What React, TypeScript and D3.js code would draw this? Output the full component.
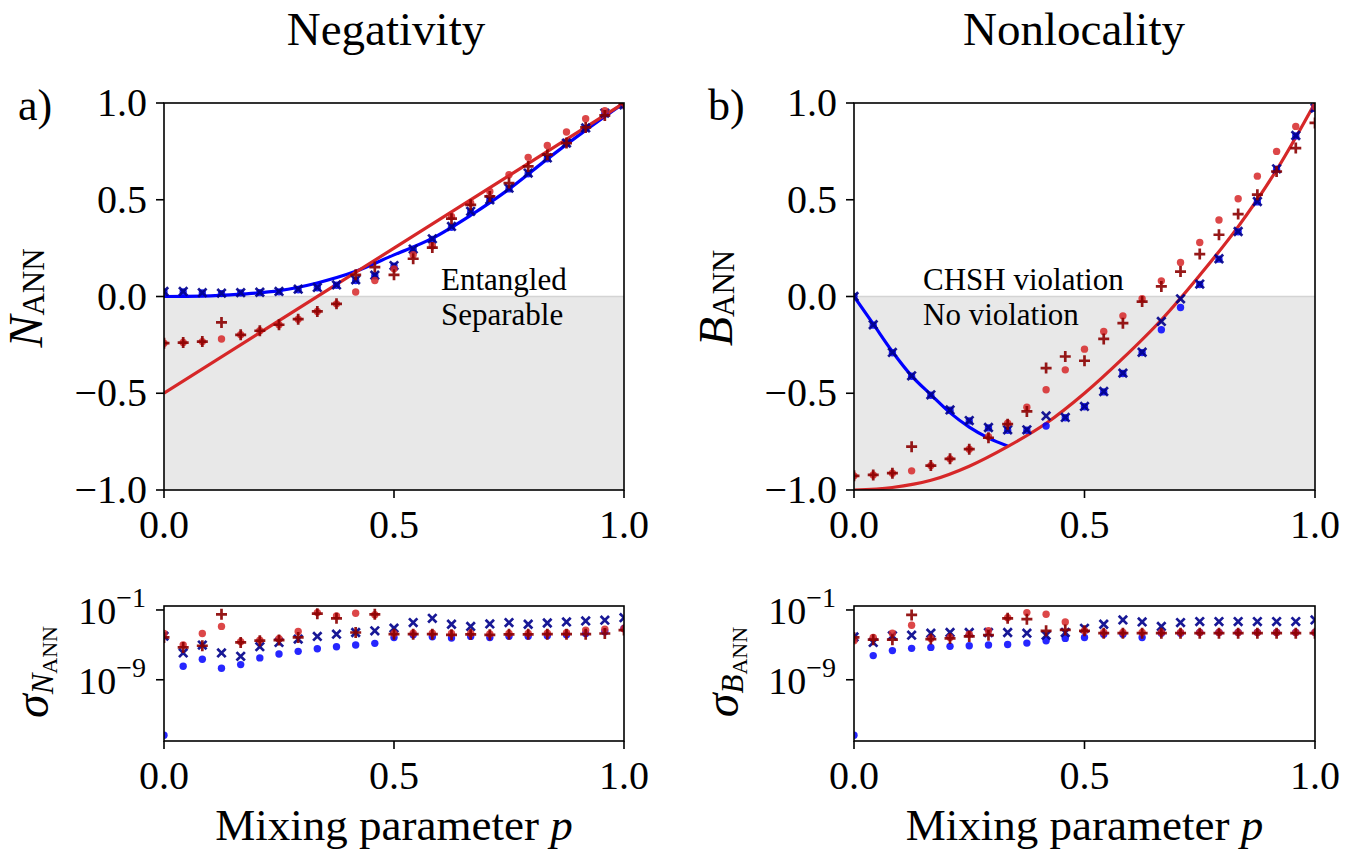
import React from "react";
import * as d3 from "d3";

const serif = "Liberation Serif, DejaVu Serif, serif";

const BLUE = "#0000ff";
const NAVY = "#00008b";
const RED = "#d62728";
const DARKRED = "#8b0000";

// mixing parameter grid
const pValues = [
  0, 0.0417, 0.0833, 0.125, 0.1667, 0.2083, 0.25, 0.2917, 0.3333, 0.375, 0.4167, 0.4583, 0.5,
  0.5417, 0.5833, 0.625, 0.6667, 0.7083, 0.75, 0.7917, 0.8333, 0.875, 0.9167, 0.9583, 1,
];

// a) negativity
const negBlueDots = [0.024, 0.024, 0.018, 0.015, 0.018, 0.02, 0.024, 0.035, 0.045, 0.058, 0.083, 0.107, 0.157, 0.243, 0.295, 0.358, 0.437, 0.497, 0.556, 0.634, 0.712, 0.79, 0.868, 0.945, 0.99];
const negNavyCross = [0.026, 0.026, 0.02, 0.017, 0.02, 0.022, 0.026, 0.038, 0.047, 0.06, 0.086, 0.11, 0.16, 0.245, 0.298, 0.362, 0.44, 0.5, 0.56, 0.638, 0.716, 0.793, 0.871, 0.948, 0.99];
const negRedDots = [-0.241, -0.238, -0.233, -0.22, -0.198, -0.177, -0.146, -0.117, -0.077, -0.038, 0.023, 0.083, 0.143, 0.216, 0.262, 0.414, 0.483, 0.543, 0.629, 0.719, 0.781, 0.85, 0.919, 0.96, 1.0];
const negRedPlus = [-0.241, -0.238, -0.233, -0.134, -0.198, -0.177, -0.146, -0.117, -0.077, -0.038, 0.112, 0.152, 0.112, 0.195, 0.253, 0.402, 0.474, 0.517, 0.586, 0.672, 0.733, 0.793, 0.874, 0.936, 0.995];
const negBlueCurveP = [0, 0.083, 0.167, 0.25, 0.333, 0.417, 0.5, 0.583, 0.667, 0.75, 0.833, 0.917, 1];
const negBlueCurve = [0, 0.002, 0.012, 0.03, 0.07, 0.13, 0.215, 0.3, 0.42, 0.555, 0.71, 0.86, 1];
const negRedCurveP = [0, 0.5, 1];
const negRedCurve = [-0.5, 0.25, 1];

// b) nonlocality
const nonBlueDots = [0.0, -0.148, -0.291, -0.412, -0.51, -0.588, -0.643, -0.679, -0.691, -0.691, -0.669, -0.627, -0.57, -0.493, -0.398, -0.29, -0.172, -0.057, 0.062, 0.193, 0.334, 0.489, 0.658, 0.83, 0.972];
const nonNavyCross = [0.0, -0.146, -0.289, -0.41, -0.508, -0.586, -0.641, -0.677, -0.689, -0.689, -0.617, -0.625, -0.568, -0.491, -0.396, -0.288, -0.129, -0.012, 0.064, 0.195, 0.336, 0.491, 0.66, 0.832, 0.974];
const nonRedDots = [-0.927, -0.922, -0.913, -0.901, -0.874, -0.839, -0.789, -0.724, -0.655, -0.572, -0.482, -0.379, -0.272, -0.181, -0.1, -0.012, 0.081, 0.176, 0.279, 0.395, 0.505, 0.622, 0.75, 0.879, 0.98];
const nonRedPlus = [-0.927, -0.922, -0.913, -0.776, -0.874, -0.839, -0.789, -0.73, -0.66, -0.594, -0.37, -0.31, -0.332, -0.219, -0.138, -0.026, 0.052, 0.129, 0.219, 0.319, 0.426, 0.526, 0.646, 0.767, 0.897];
const nonBlueCurveP = [0, 0.042, 0.083, 0.125, 0.167, 0.208, 0.25, 0.292, 0.333];
const nonBlueCurve = [0, -0.143, -0.284, -0.41, -0.508, -0.6, -0.675, -0.732, -0.772];
const nonRedCurveP = [0, 0.083, 0.167, 0.25, 0.333, 0.417, 0.5, 0.583, 0.667, 0.75, 0.833, 0.917, 1];
const nonRedCurve = [-1, -0.987, -0.95, -0.877, -0.776, -0.655, -0.5, -0.32, -0.12, 0.11, 0.36, 0.655, 1];

// standard deviations (log axis)
const sigNegBlueDots = [4.3e-16, 3.5e-8, 2.2e-7, 2.1e-8, 5.5e-8, 3.2e-7, 9.1e-7, 1.8e-6, 3.6e-6, 6.2e-6, 9.5e-6, 1.5e-5, 7.1e-5, 1.4e-4, 8.5e-5, 6.0e-5, 9.3e-5, 7.1e-5, 1e-4, 1e-4, 1.1e-4, 1.4e-4, 2.0e-4, 3.2e-4, 7.6e-4];
const sigNegNavyCross = [1e-4, 1.2e-6, 9.5e-6, 1.2e-6, 4.9e-7, 6.2e-6, 1.9e-5, 4.6e-5, 9.3e-5, 1.7e-4, 2.6e-4, 4.1e-4, 8.3e-4, 3.6e-3, 1.1e-2, 2.3e-3, 1.3e-3, 2.5e-3, 3.6e-3, 2.3e-3, 3.2e-3, 4.3e-3, 5.6e-3, 6.8e-3, 1.3e-2];
const sigNegRedDots = [2.0e-4, 1.0e-5, 2.0e-4, 1.3e-3, 2.3e-5, 3.5e-5, 5.0e-5, 3.4e-4, 5.0e-2, 2.1e-2, 4.2e-2, 2.8e-2, 2.0e-4, 2.2e-4, 2.2e-4, 2.0e-4, 2.0e-4, 1.8e-4, 2.0e-4, 2.0e-4, 2.2e-4, 2.5e-4, 4.9e-4, 6.3e-4, 7.1e-4];
const sigNegRedPlus = [7.1e-5, 5.1e-6, 7.9e-6, 3.2e-2, 1.9e-5, 3.0e-5, 3.5e-5, 7.1e-5, 3.8e-2, 1.1e-2, 2.6e-4, 3.2e-2, 1.7e-4, 1.7e-4, 1.7e-4, 1.4e-4, 1.6e-4, 1.4e-4, 1.6e-4, 1.6e-4, 1.7e-4, 1.7e-4, 1.7e-4, 2.0e-4, 5.0e-4];

const sigNonBlueDots = [4.3e-16, 5.9e-7, 2.2e-6, 4.0e-6, 5.1e-6, 6.8e-6, 7.9e-6, 9.5e-6, 1.1e-5, 1.6e-5, 3.0e-5, 5.5e-5, 7.1e-5, 1.7e-4, 1.7e-4, 7.1e-5, 2.2e-4, 2.2e-4, 2.6e-4, 2.6e-4, 2.6e-4, 2.6e-4, 2.6e-4, 2.6e-4, 2.6e-4];
const sigNonNavyCross = [8e-5, 1.9e-5, 1.1e-4, 1.3e-4, 2.2e-4, 2.6e-4, 2.6e-4, 2.6e-4, 2.6e-4, 2.2e-4, 1.3e-4, 2.6e-4, 7.9e-4, 2.3e-3, 7.2e-3, 4.3e-3, 1.3e-3, 3.6e-3, 4.7e-3, 4.7e-3, 4.7e-3, 4.7e-3, 4.7e-3, 4.7e-3, 7.2e-3];
const sigNonRedDots = [3.0e-5, 7.1e-5, 2.2e-4, 1.8e-3, 5.5e-5, 7.1e-5, 1.7e-4, 4.1e-4, 1.3e-2, 5.0e-2, 3.2e-2, 4.3e-3, 4.1e-4, 2.6e-4, 2.6e-4, 2.6e-4, 2.6e-4, 2.6e-4, 2.6e-4, 2.6e-4, 2.6e-4, 2.6e-4, 2.6e-4, 2.6e-4, 2.6e-4];
const sigNonRedPlus = [7.1e-5, 3.9e-5, 3.9e-5, 2.7e-2, 4.6e-5, 5.5e-5, 9.3e-5, 1.3e-4, 1.1e-2, 8.7e-3, 4.1e-4, 5.2e-4, 4.1e-4, 2.2e-4, 2.2e-4, 2.2e-4, 2.2e-4, 2.2e-4, 2.2e-4, 2.2e-4, 2.2e-4, 2.2e-4, 2.2e-4, 2.2e-4, 2.2e-4];

const xTicks = [0, 0.5, 1];
const yTicks = [-1, -0.5, 0, 0.5, 1];
const logTicks = [1e-1, 1e-9];
const logTickExp = ["−1", "−9"];

const TOP = { y0: 490, y1: 103 };
const BOT = { y0: 741, y1: 606 };
const PANELS = [
  { id: "a", x0: 164, x1: 624 },
  { id: "b", x0: 854, x1: 1315 },
];

type Shape = "dot" | "x" | "plus";

function marker(shape: Shape, cx: number, cy: number, color: string, key: string) {
  if (shape === "dot") return <circle key={key} cx={cx} cy={cy} r={3.7} fill={color} opacity={0.85} />;
  if (shape === "x")
    return (
      <path key={key} d={`M${cx - 4.2},${cy - 4.2}L${cx + 4.2},${cy + 4.2}M${cx - 4.2},${cy + 4.2}L${cx + 4.2},${cy - 4.2}`}
        stroke={color} strokeWidth={2.7} opacity={0.9} />
    );
  return (
    <path key={key} d={`M${cx - 5.5},${cy}H${cx + 5.5}M${cx},${cy - 5.5}V${cy + 5.5}`}
      stroke={color} strokeWidth={2.7} opacity={0.9} />
  );
}

const fmt = d3.format(".1f");
const txt = { fontFamily: serif };

function XAxis({ x, y }: { x: d3.ScaleLinear<number, number>; y: number }) {
  return (
    <g>
      {xTicks.map((t) => (
        <g key={t}>
          <line x1={x(t)} x2={x(t)} y1={y} y2={y + 8} stroke="#000" strokeWidth={1.6} />
          <text x={x(t)} y={y + 48} textAnchor="middle" fontSize={40} style={txt}>{fmt(t)}</text>
        </g>
      ))}
    </g>
  );
}

function TopPanel({ x0, x1, id, curves, series, upper, lower, textX, title, titleX, yLabel, letter }: any) {
  const x = d3.scaleLinear().domain([0, 1]).range([x0, x1]);
  const y = d3.scaleLinear().domain([-1, 1]).range([TOP.y0, TOP.y1]);
  const line = d3.line<[number, number]>().x((d) => x(d[0])).y((d) => y(d[1])).curve(d3.curveMonotoneX);
  return (
    <g>
      <defs>
        <clipPath id={`clip-top-${id}`}>
          <rect x={x0} y={TOP.y1} width={x1 - x0} height={TOP.y0 - TOP.y1} />
        </clipPath>
      </defs>
      <rect x={x0} y={y(0)} width={x1 - x0} height={y(-1) - y(0)} fill="#e8e8e8" />
      <line x1={x0} x2={x1} y1={y(0)} y2={y(0)} stroke="#d4d4d4" strokeWidth={1.5} />
      <text x={textX} y={y(0) - 7} fontSize={31} style={txt}>{upper}</text>
      <text x={textX} y={y(0) + 28} fontSize={31} style={txt}>{lower}</text>
      <g clipPath={`url(#clip-top-${id})`}>
        {curves.map((c: any, i: number) => (
          <path key={i} d={line(c.p.map((p: number, j: number) => [p, c.v[j]]) as [number, number][]) || ""}
            fill="none" stroke={c.color} strokeWidth={3.2} />
        ))}
        {series.map((s: any, i: number) =>
          s.v.map((v: number, j: number) => marker(s.shape, x(pValues[j]), y(v), s.color, `${i}-${j}`))
        )}
      </g>
      <rect x={x0} y={TOP.y1} width={x1 - x0} height={TOP.y0 - TOP.y1} fill="none" stroke="#000" strokeWidth={1.6} />
      {yTicks.map((t) => (
        <g key={t}>
          <line x1={x0 - 8} x2={x0} y1={y(t)} y2={y(t)} stroke="#000" strokeWidth={1.6} />
          <text x={x0 - 17} y={y(t) + 13} textAnchor="end" fontSize={40} style={txt}>{fmt(t)}</text>
        </g>
      ))}
      <XAxis x={x} y={TOP.y0} />
      <text x={titleX} y={45} textAnchor="middle" fontSize={47} style={txt}>{title}</text>
      <text x={x0 - 146} y={120} fontSize={44} style={txt}>{letter}</text>
      <text transform={`translate(${x0 - 122},298) rotate(-90)`} textAnchor="middle" style={txt}>
        <tspan fontSize={48} fontStyle="italic">{yLabel}</tspan>
        <tspan fontSize={31} dy={2}>ANN</tspan>
      </text>
    </g>
  );
}

function BottomPanel({ x0, x1, id, series, yLabel }: any) {
  const x = d3.scaleLinear().domain([0, 1]).range([x0, x1]);
  const y = d3.scaleLog().domain([Math.pow(10, -16.02), Math.pow(10, -0.545)]).range([BOT.y0, BOT.y1]);
  return (
    <g>
      <defs>
        <clipPath id={`clip-bot-${id}`}>
          <rect x={x0} y={BOT.y1} width={x1 - x0} height={BOT.y0 - BOT.y1} />
        </clipPath>
      </defs>
      <g clipPath={`url(#clip-bot-${id})`}>
        {series.map((s: any, i: number) =>
          s.v.map((v: number, j: number) => marker(s.shape, x(pValues[j]), y(v), s.color, `${i}-${j}`))
        )}
      </g>
      <rect x={x0} y={BOT.y1} width={x1 - x0} height={BOT.y0 - BOT.y1} fill="none" stroke="#000" strokeWidth={1.6} />
      {logTicks.map((t, i) => (
        <g key={t}>
          <line x1={x0 - 8} x2={x0} y1={y(t)} y2={y(t)} stroke="#000" strokeWidth={1.6} />
          <text x={x0 - 18} y={y(t) + 14} textAnchor="end" style={txt}>
            <tspan fontSize={38}>10</tspan>
            <tspan fontSize={28} dy={-17}>{logTickExp[i]}</tspan>
          </text>
        </g>
      ))}
      <XAxis x={x} y={BOT.y0} />
      <text x={(x0 + x1) / 2} y={840} textAnchor="middle" fontSize={45} style={txt}>
        Mixing parameter <tspan fontStyle="italic">p</tspan>
      </text>
      <text transform={`translate(${x0 - 116},672) rotate(-90)`} textAnchor="middle" style={txt}>
        <tspan fontSize={48} fontStyle="italic">σ</tspan>
        <tspan fontSize={31} fontStyle="italic" dy={5}>{yLabel}</tspan>
        <tspan fontSize={22} dy={4}>ANN</tspan>
      </text>
    </g>
  );
}

const App = () => {
  const topSeries = (b: number[], n: number[], r: number[], p: number[]) => [
    { v: b, shape: "dot", color: BLUE },
    { v: n, shape: "x", color: NAVY },
    { v: r, shape: "dot", color: RED },
    { v: p, shape: "plus", color: DARKRED },
  ];
  return (
    <svg width={1361} height={853} style={{ position: "absolute", left: 0, top: 0, background: "#fff" }}>
      <TopPanel
        {...PANELS[0]}
        title="Negativity" titleX={386} letter="a)" yLabel="N"
        upper="Entangled" lower="Separable" textX={441}
        curves={[
          { p: negBlueCurveP, v: negBlueCurve, color: BLUE },
          { p: negRedCurveP, v: negRedCurve, color: RED },
        ]}
        series={topSeries(negBlueDots, negNavyCross, negRedDots, negRedPlus)}
      />
      <TopPanel
        {...PANELS[1]}
        title="Nonlocality" titleX={1074} letter="b)" yLabel="B"
        upper="CHSH violation" lower="No violation" textX={923}
        curves={[
          { p: nonBlueCurveP, v: nonBlueCurve, color: BLUE },
          { p: nonRedCurveP, v: nonRedCurve, color: RED },
        ]}
        series={topSeries(nonBlueDots, nonNavyCross, nonRedDots, nonRedPlus)}
      />
      <BottomPanel {...PANELS[0]} yLabel="N" series={topSeries(sigNegBlueDots, sigNegNavyCross, sigNegRedDots, sigNegRedPlus)} />
      <BottomPanel {...PANELS[1]} yLabel="B" series={topSeries(sigNonBlueDots, sigNonNavyCross, sigNonRedDots, sigNonRedPlus)} />
    </svg>
  );
};

export default App;
